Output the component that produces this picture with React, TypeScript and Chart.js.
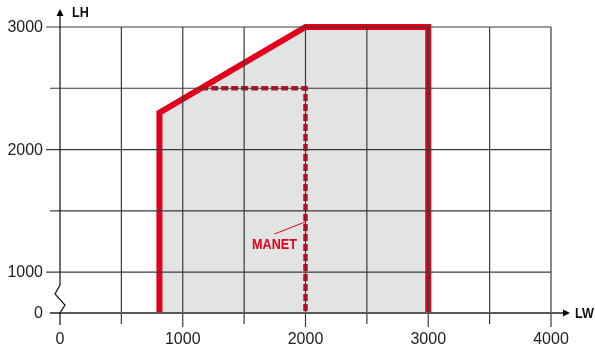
import React, { useEffect, useRef } from "react";
import { Chart, registerables } from "chart.js";

Chart.register(...registerables);

// ---- data ----
const outlineX = [810, 810, 2000, 3000, 3000];
const outlineY = [0, 2300, 3000, 3000, 0];
const manetX = [1150, 2000, 2000];
const manetY = [2500, 2500, 0];
const xMajorTicks = [0, 1000, 2000, 3000, 4000];
const xMinorTicks = [500, 1500, 2500, 3500];
const yMajorTicks = [0, 1000, 2000, 3000];
const yMinorTicks = [1500, 2500];
const xTickLabels = ["0", "1000", "2000", "3000", "4000"];
const yTickLabels = ["0", "1000", "2000", "3000"];
const xAxisTitle = "LW";
const yAxisTitle = "LH";
const manetLabel = "MANET";

// broken y axis: 0..1000 compressed
const BREAK_AT = 1000;
const BREAK_SPAN = 334;
const toAxis = (v: number) => (v >= BREAK_AT ? v : BREAK_AT - BREAK_SPAN + (v * BREAK_SPAN) / BREAK_AT);

const RED = "#e2001a";
const DASH_RED = "#cc0a2a";
const FILL = "#e2e3e3";
const BOLD_FONT = 'bold 15px "Liberation Sans", Arial, sans-serif';

function condensedText(ctx: CanvasRenderingContext2D, text: string, x: number, y: number, align: "left" | "right") {
  ctx.save();
  ctx.translate(x, y);
  ctx.scale(0.84, 1);
  ctx.textAlign = align;
  ctx.fillText(text, 0, 0);
  ctx.restore();
}

const overlay = {
  id: "overlay",
  afterDatasetsDraw(chart: any) {
    const { ctx, scales } = chart;
    const xs = scales.x;
    const ys = scales.y;
    const px = (v: number) => xs.getPixelForValue(v);
    const py = (v: number) => ys.getPixelForValue(toAxis(v));
    const x0 = px(0);
    const y0 = py(0);
    const xEnd = px(4000);
    const yTop = py(3000);
    ctx.save();

    // horizontal grid lines
    ctx.strokeStyle = "#3a3a3a";
    ctx.lineWidth = 1.2;
    const yAll = [...yMajorTicks, ...yMinorTicks];
    yAll.forEach((v) => {
      if (v === 0) return;
      const major = yMajorTicks.includes(v);
      ctx.beginPath();
      ctx.moveTo(x0 - (major ? 14 : 10), py(v));
      ctx.lineTo(xEnd, py(v));
      ctx.stroke();
    });
    // vertical grid lines
    const xAll = [...xMajorTicks, ...xMinorTicks];
    xAll.forEach((v) => {
      if (v === 0) return;
      const major = xMajorTicks.includes(v);
      ctx.beginPath();
      ctx.moveTo(px(v), yTop);
      ctx.lineTo(px(v), y0 + (major ? 14 : 11));
      ctx.stroke();
    });

    // x axis
    ctx.strokeStyle = "#5a5a5a";
    ctx.lineWidth = 1.8;
    ctx.beginPath();
    ctx.moveTo(x0 - 10, y0);
    ctx.lineTo(xEnd + 13, y0);
    ctx.stroke();
    ctx.fillStyle = "#000";
    ctx.beginPath();
    ctx.moveTo(xEnd + 19, y0);
    ctx.lineTo(xEnd + 12, y0 - 3.5);
    ctx.lineTo(xEnd + 12, y0 + 3.5);
    ctx.closePath();
    ctx.fill();

    // y axis with break
    ctx.strokeStyle = "#111";
    ctx.lineWidth = 1.2;
    ctx.beginPath();
    ctx.moveTo(x0, yTop - 12);
    ctx.lineTo(x0, y0 - 28);
    ctx.lineTo(x0 - 5, y0 - 19);
    ctx.lineTo(x0 + 5, y0 - 8);
    ctx.lineTo(x0, y0);
    ctx.lineTo(x0, y0 + 12);
    ctx.stroke();
    ctx.beginPath();
    ctx.moveTo(x0, yTop - 18);
    ctx.lineTo(x0 - 3.5, yTop - 11);
    ctx.lineTo(x0 + 3.5, yTop - 11);
    ctx.closePath();
    ctx.fill();

    // tick labels
    ctx.fillStyle = "#222";
    ctx.font = '16px "Liberation Sans", Arial, sans-serif';
    ctx.textBaseline = "middle";
    ctx.textAlign = "right";
    yMajorTicks.forEach((v, i) => ctx.fillText(yTickLabels[i], x0 - 17, py(v) + 1));
    ctx.textAlign = "center";
    xMajorTicks.forEach((v, i) => ctx.fillText(xTickLabels[i], px(v), y0 + 27));

    // axis titles
    ctx.fillStyle = "#111";
    ctx.font = BOLD_FONT;
    condensedText(ctx, yAxisTitle, x0 + 12, yTop - 14, "left");
    condensedText(ctx, xAxisTitle, xEnd + 24, y0 + 1, "left");

    // MANET annotation
    ctx.strokeStyle = RED;
    ctx.lineWidth = 1;
    ctx.beginPath();
    ctx.moveTo(px(1745), py(1310));
    ctx.lineTo(px(2000), py(1410));
    ctx.stroke();
    ctx.fillStyle = RED;
    ctx.font = BOLD_FONT;
    condensedText(ctx, manetLabel, px(1930), py(1225), "right");

    ctx.restore();
  },
};

export default function App() {
  const ref = useRef<HTMLCanvasElement | null>(null);
  useEffect(() => {
    if (!ref.current) return;
    const outline = outlineX.map((x, i) => ({ x, y: toAxis(outlineY[i]) }));
    const manet = manetX.map((x, i) => ({ x, y: toAxis(manetY[i]) }));
    const chart = new Chart(ref.current, {
      type: "scatter",
      data: {
        datasets: [
          {
            label: "outline",
            data: outline,
            showLine: true,
            borderColor: RED,
            borderWidth: 6,
            borderJoinStyle: "miter",
            borderCapStyle: "butt",
            pointRadius: 0,
            fill: false,
            clip: false as any,
          },
          {
            label: manetLabel,
            data: manet,
            showLine: true,
            borderColor: DASH_RED,
            borderWidth: 4.5,
            borderDash: [7, 3],
            borderCapStyle: "butt",
            pointRadius: 0,
            fill: false,
            clip: false as any,
          },
          {
            label: "area",
            data: outline,
            showLine: true,
            borderColor: "transparent",
            borderWidth: 0,
            backgroundColor: FILL,
            pointRadius: 0,
            fill: "start",
          },
        ],
      },
      options: {
        animation: false,
        responsive: true,
        maintainAspectRatio: false,
        events: [],
        layout: { padding: { left: 60, right: 44, top: 27, bottom: 40 } },
        scales: {
          x: { type: "linear", min: 0, max: 4000, display: false },
          y: { type: "linear", min: toAxis(0), max: 3000, display: false },
        },
        plugins: { legend: { display: false }, tooltip: { enabled: false } },
      },
      plugins: [overlay],
    });
    return () => chart.destroy();
  }, []);
  return (
    <div style={{ position: "fixed", left: 0, top: 0, width: 595, height: 353, background: "#fff" }}>
      <canvas ref={ref} />
    </div>
  );
}
